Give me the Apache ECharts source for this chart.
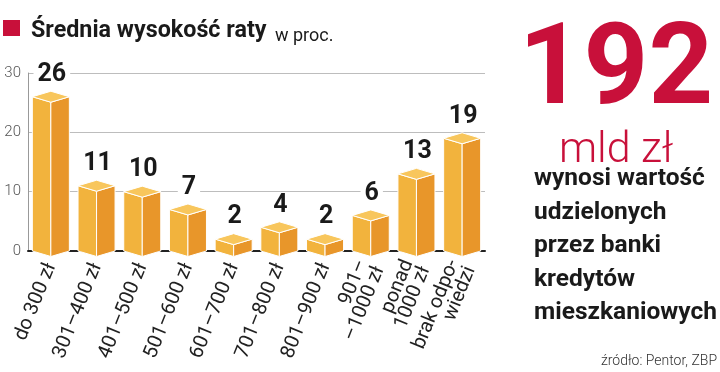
<!DOCTYPE html>
<html><head><meta charset="utf-8">
<script src="https://cdn.jsdelivr.net/npm/echarts@6/dist/echarts.min.js"></script>
<style>html,body{margin:0;padding:0;background:#fff}#c{width:720px;height:372px}</style>
</head><body><div id="c"></div>
<script>
const categories = ['do 300 zł','301–400 zł','401–500 zł','501–600 zł','601–700 zł','701–800 zł','801–900 zł','901–\n–1000 zł','ponad\n1000 zł','brak odpo-\nwiedzi'];
const values = [26, 11, 10, 7, 2, 4, 2, 6, 13, 19];
const yMin = 0, yMax = 30, yStep = 10;
const titleText = 'Średnia wysokość raty';
const unitText = 'w proc.';
const bigNumber = '192';
const bigUnit = 'mld zł';
const sideLines = ['wynosi wartość', 'udzielonych', 'przez banki', 'kredytów', 'mieszkaniowych'];
const sourceText = 'źródło: Pentor, ZBP';

const RED = '#C8103A';
const FONT = 'Roboto';
const chart = echarts.init(document.getElementById('c'), null, {renderer: 'canvas'});

function renderBox(params, api) {
  const idx = api.value(0), v = api.value(1);
  const top = api.coord([idx, v]);
  const base = api.coord([idx, 0]);
  const cx = top[0];
  const hw = api.size([1, 0])[0] * 0.405;
  const dy = 5.5;
  const ty = top[1], by = base[1];
  const stroke = {stroke: '#fff', lineWidth: 1, lineJoin: 'round'};
  return {
    type: 'group',
    children: [
      {type: 'polygon', shape: {points: [[cx - hw, ty], [cx, ty + dy], [cx, by + dy], [cx - hw, by]]},
        style: Object.assign({fill: '#F2B33D'}, stroke)},
      {type: 'polygon', shape: {points: [[cx, ty + dy], [cx + hw, ty], [cx + hw, by], [cx, by + dy]]},
        style: Object.assign({fill: '#E8962A'}, stroke)},
      {type: 'polygon', shape: {points: [[cx - hw, ty], [cx, ty - dy], [cx + hw, ty], [cx, ty + dy]]},
        style: Object.assign({fill: '#F8C65C'}, stroke)},
      {type: 'text', style: {text: String(v), x: cx + 1, y: ty - dy - 4, align: 'center', verticalAlign: 'bottom',
        fill: '#1a1a1a', font: 'bold 25px ' + FONT, backgroundColor: '#fff', padding: [0, 4, 0, 4]}}
    ]
  };
}

chart.setOption({
  animation: false,
  grid: {left: 28, right: 235, top: 73, bottom: 121},
  xAxis: {
    type: 'category', data: categories,
    axisLine: {lineStyle: {color: '#222', width: 2}},
    axisTick: {show: false},
    axisLabel: {interval: 0, rotate: 68, margin: 13, fontSize: 20, color: '#222', fontFamily: FONT, lineHeight: 18}
  },
  yAxis: {
    type: 'value', min: yMin, max: yMax, interval: yStep,
    axisLine: {show: true, lineStyle: {color: '#999', width: 1}},
    axisTick: {show: false},
    axisLabel: {margin: 7, fontSize: 15, color: '#555', fontFamily: FONT, fontWeight: 300},
    splitLine: {lineStyle: {color: '#bdbdbd', width: 1}}
  },
  series: [{
    type: 'custom', renderItem: renderBox,
    data: values.map((v, i) => [i, v]),
    encode: {x: 0, y: 1}, z: 3
  }],
  graphic: [
    {type: 'rect', shape: {x: 3, y: 20, width: 17, height: 16}, style: {fill: RED}},
    {type: 'text', x: 31, y: 43, style: {text: titleText, font: 'bold 23.3px ' + FONT, fill: '#1a1a1a', verticalAlign: 'bottom'}},
    {type: 'text', x: 275, y: 45, style: {text: unitText, font: '18px ' + FONT, fill: '#1a1a1a', verticalAlign: 'bottom'}},
    {type: 'text', x: 616, y: 75, style: {text: bigNumber, font: 'bold 113px ' + FONT, fill: RED, align: 'center', verticalAlign: 'middle'}},
    {type: 'text', x: 616, y: 151, style: {text: bigUnit, font: '300 43px ' + FONT, fill: RED, align: 'center', verticalAlign: 'middle'}},
    ...sideLines.map((t, i) => ({type: 'text', x: 534, y: 179 + i * 33.5,
      style: {text: t, font: 'bold 24.5px ' + FONT, fill: '#1a1a1a', verticalAlign: 'middle'}})),
    {type: 'text', x: 717, y: 361, style: {text: sourceText, font: '300 14px ' + FONT, fill: '#333', align: 'right', verticalAlign: 'middle'}}
  ]
});
</script></body></html>
